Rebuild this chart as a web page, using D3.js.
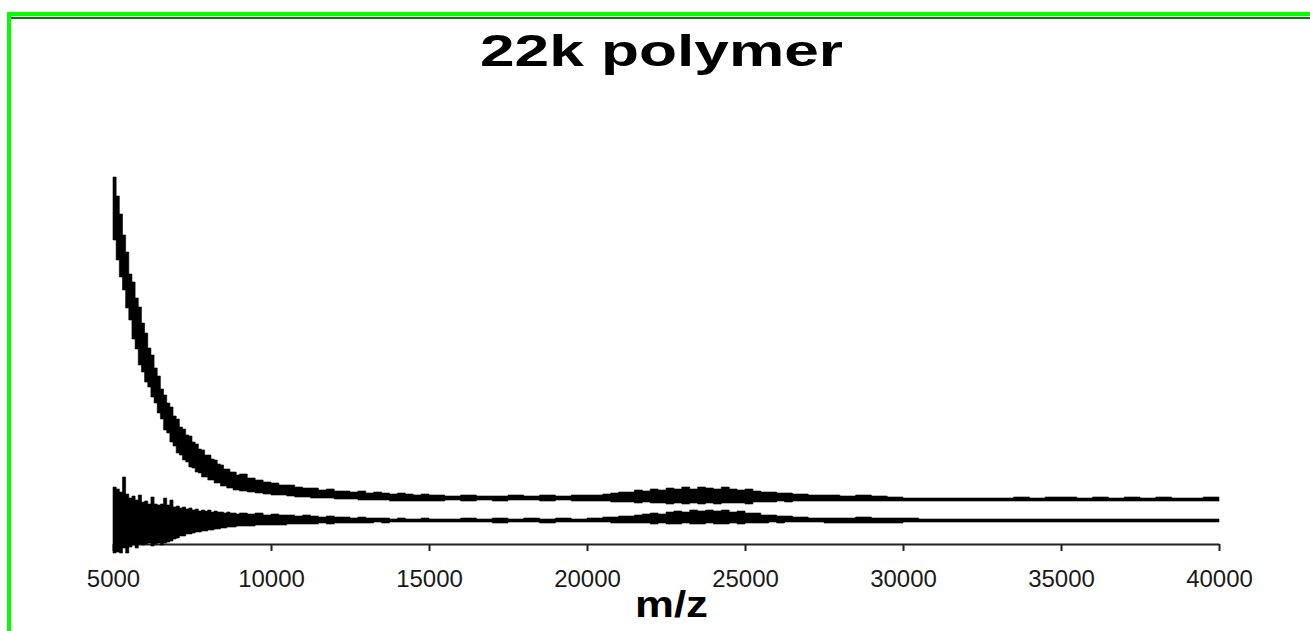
<!DOCTYPE html>
<html>
<head>
<meta charset="utf-8">
<script src="https://cdn.jsdelivr.net/npm/d3@7"></script>
<style>
  html, body { margin: 0; padding: 0; background: #fff; }
  svg { display: block; }
  text { font-family: "Liberation Sans", Arial, sans-serif; }
</style>
</head>
<body>
<svg id="chart" width="1310" height="631"></svg>
<script>
// ---------- data ----------
const title = "22k polymer";
const xLabel = "m/z";
const tickLabels = [5000, 10000, 15000, 20000, 25000, 30000, 35000, 40000];

// m/z sample positions
const mz = [
  5000,5100,5200,5300,5400,5500,5600,5700,5800,5900,6000,6100,6200,6300,6400,6500,6600,6700,6800,6900,
  7000,7100,7200,7300,7400,7500,7600,7700,7800,7900,8000,8100,8200,8300,8400,8500,8600,8700,8800,8900,9000,
  9250,9500,9750,10000,10250,10500,10750,11000,11250,11500,11750,12000,12250,12500,12750,13000,13250,13500,13750,14000,14250,14500,14750,15000,
  15500,16000,16500,17000,17500,18000,18500,19000,19500,20000,
  20250,20500,20750,21000,21250,21500,21750,22000,22250,22500,22750,23000,23250,23500,23750,24000,24250,24500,24750,25000,25250,25500,25750,26000,26250,26500,26750,27000,
  27500,28000,28500,29000,29500,30000,30500,31000,31500,32000,32500,33000,33500,34000,34500,35000,35500,36000,36500,37000,37500,38000,38500,39000,39500,40000
];

// upper trace: top / bottom of the noisy band (displayed intensity, a.u.)
const upperHi = [
  367,348,330,309,292,270,262,246,237,221,211,196,189,176,168,155,149,141,137,128,
  125,117,115,109,108,102,100,95,94,89,89,85,84,80,79,75,75,72,72,69,70,
  66,64,62,61,59,59,57,56,56,54,55,53,53,52,53,51,52,51,50,51,50,49,50,49,
  48,49,48,48,49,48,49,48,49,49,
  49,50,51,52,52,54,53,55,54,56,55,57,55,57,56,55,57,55,54,55,53,52,52,51,51,50,50,49,
  49,48,49,48,47,46,46,46,46,46,46,46,47,46,47,47,46,47,46,47,46,47,46,46,47,47
];
const upperLo = [
  304,284,267,254,236,224,205,195,179,172,162,157,147,141,131,125,114,111,102,98,
  91,89,84,82,77,76,72,71,67,67,64,64,61,61,58,58,56,56,54,54,53,
  52,51,50,49,49,48,47,47,46,46,46,45,45,45,44,44,44,44,43,43,43,43,43,43,
  44,43,44,43,44,44,43,44,43,43,
  43,43,42,42,42,41,42,41,41,40,41,40,41,40,41,40,41,41,41,40,42,42,42,43,42,43,43,43,
  43,43,43,43,43,43,43,43,43,43,43,43,43,43,43,43,43,43,43,43,43,43,43,43,43,43
];

// lower trace: top / bottom of the noisy band
const lowerHi = [
  57,55,52,67,50,46,48,44,49,42,43,40,47,40,39,40,46,39,44,37,
  38,36,37,35,36,34,35,33,34,33,34,32,33,32,32,31,32,31,31,30,31,
  30,31,29,30,29,29,28,29,28,27,28,27,27,26,27,26,26,26,25,26,25,25,26,25,
  25,26,25,26,25,26,25,26,25,26,
  26,27,27,28,28,29,30,31,30,32,33,32,34,33,34,33,34,32,33,31,31,29,29,28,28,27,27,26,
  26,26,27,26,26,26,25,25,25,25,25,25,25,25,25,25,25,25,25,25,25,25,25,25,25,25
];
const lowerLo = [
  -9,-8,-9,-4,-9,-3,-1,-4,0,-1,0,1,-2,0,1,-1,1,2,3,5,
  6,8,8,10,10,11,12,12,13,13,14,14,15,15,16,16,17,17,17,18,18,
  18,19,19,19,19,20,20,20,20,21,20,21,21,21,21,21,22,21,22,22,22,22,22,22,
  22,22,22,21,22,22,21,22,22,22,
  22,22,21,21,21,21,21,20,21,20,20,21,20,20,21,20,20,21,20,21,21,21,22,21,22,22,22,22,
  21,21,21,21,21,22,22,22,22,22,22,22,22,22,22,22,22,22,22,22,22,22,22,22,22,22
];

// ---------- drawing ----------
const svg = d3.select("#chart");

// frame
svg.append("rect").attr("x", 7).attr("y", 12).attr("width", 1303).attr("height", 4).attr("fill", "#00ff00");
svg.append("rect").attr("x", 7).attr("y", 12).attr("width", 4).attr("height", 619).attr("fill", "#00ff00");
svg.append("rect").attr("x", 11).attr("y", 17).attr("width", 1299).attr("height", 2).attr("fill", "#008000");

const x = d3.scaleLinear().domain([5000, 40000]).range([113, 1219]);
const y = d3.scaleLinear().domain([0, 400]).range([544, 144]);

// x axis
const axis = d3.axisBottom(x)
  .tickValues(tickLabels)
  .tickFormat(d3.format("d"))
  .tickSize(7)
  .tickSizeOuter(0)
  .tickPadding(19);

const gAxis = svg.append("g").attr("transform", "translate(0,544)").call(axis);
gAxis.select(".domain").attr("stroke", "#222").attr("stroke-width", 2);
gAxis.selectAll(".tick line").attr("stroke", "#222").attr("stroke-width", 2);
gAxis.selectAll(".tick text")
  .attr("fill", "#1a1a1a")
  .style("font-family", "'Liberation Sans', Arial, sans-serif")
  .style("font-size", "24px");

// traces
function band(hi, lo) {
  return mz.map((m, i) => ({ mz: m, hi: hi[i], lo: lo[i] }));
}
const area = d3.area()
  .x(d => x(d.mz))
  .y0(d => y(d.lo))
  .y1(d => y(d.hi))
  .curve(d3.curveStepAfter);

[[upperHi, upperLo], [lowerHi, lowerLo]].forEach(([hi, lo]) => {
  svg.append("path")
    .datum(band(hi, lo))
    .attr("d", area)
    .attr("fill", "#000")
    .attr("stroke", "#000")
    .attr("stroke-width", 0.6)
    .attr("stroke-linejoin", "miter");
});

// title
svg.append("text")
  .attr("x", 661.5).attr("y", 66)
  .attr("text-anchor", "middle")
  .attr("textLength", 363)
  .attr("lengthAdjust", "spacingAndGlyphs")
  .style("font-size", "44px")
  .style("font-weight", "bold")
  .attr("fill", "#000")
  .text(title);

// x label
svg.append("text")
  .attr("x", 671.5).attr("y", 617)
  .attr("text-anchor", "middle")
  .attr("textLength", 73)
  .attr("lengthAdjust", "spacingAndGlyphs")
  .style("font-size", "37px")
  .style("font-weight", "bold")
  .attr("fill", "#000")
  .text(xLabel);
</script>
</body>
</html>
